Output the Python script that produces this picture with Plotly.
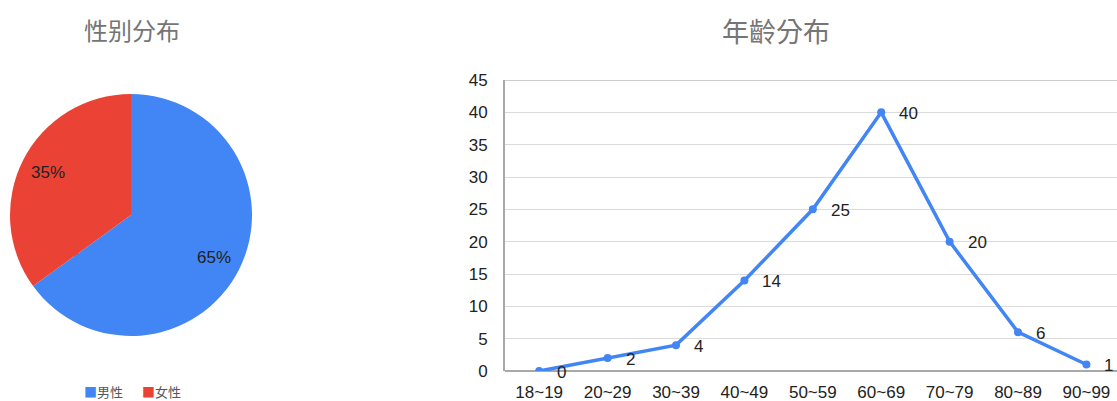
import plotly.graph_objects as go

W, H = 1117, 401

gender_labels = ["男性", "女性"]
gender_values = [65, 35]
gender_colors = ["#4285F4", "#EA4335"]

age_groups = ["18~19", "20~29", "30~39", "40~49", "50~59", "60~69", "70~79", "80~89", "90~99"]
age_counts = [0, 2, 4, 14, 25, 40, 20, 6, 1]

y_ticks = [0, 5, 10, 15, 20, 25, 30, 35, 40, 45]

FONT = "Liberation Sans, Arial, sans-serif"
CJK = "Noto Sans CJK SC, sans-serif"

def px_x(p):
    return p / W

def px_y(p):
    return 1 - p / H

# pie geometry (pixels)
cx, cy, r = 131, 215, 121
outer_dom = dict(x=[px_x(cx - r), px_x(cx + r)], y=[px_y(cy + r), px_y(cy - r)])
ri = r * 0.58
inner_dom = dict(x=[px_x(cx - ri), px_x(cx + ri)], y=[px_y(cy + ri), px_y(cy - ri)])

fig = go.Figure()

# solid inner disc (fills the donut hole, no text)
fig.add_trace(go.Pie(
    labels=gender_labels, values=gender_values,
    marker=dict(colors=gender_colors, line=dict(width=0)),
    sort=False, direction="clockwise", rotation=0,
    textinfo="none", hoverinfo="skip",
    domain=inner_dom, showlegend=False,
))
# outer ring carrying the percentage labels
fig.add_trace(go.Pie(
    labels=gender_labels, values=gender_values, hole=0.54,
    marker=dict(colors=gender_colors, line=dict(width=0)),
    sort=False, direction="clockwise", rotation=0,
    textinfo="percent", textposition="inside", insidetextorientation="horizontal",
    insidetextfont=dict(color="#222222", size=17, family=FONT),
    domain=outer_dom, showlegend=False,
))

fig.add_trace(go.Scatter(
    x=age_groups, y=age_counts, mode="lines+markers",
    line=dict(color="#4285F4", width=3.5),
    marker=dict(color="#4285F4", size=8),
    showlegend=False, xaxis="x", yaxis="y",
))

for g, c in zip(age_groups, age_counts):
    fig.add_annotation(x=g, y=c, xref="x", yref="y", text=str(c),
                       showarrow=False, xanchor="left", xshift=16, yshift=-1,
                       font=dict(size=17, color="#222222", family=FONT))

# titles
fig.add_annotation(x=px_x(132), y=px_y(29), xref="paper", yref="paper",
                   text="性别分布", showarrow=False, xanchor="center", yanchor="middle",
                   font=dict(size=24, color="#757575", family="Noto Sans CJK SC"))
fig.add_annotation(x=px_x(776), y=px_y(31), xref="paper", yref="paper",
                   text="年齡分布", showarrow=False, xanchor="center", yanchor="middle",
                   font=dict(size=27, color="#757575", family="Noto Sans CJK TC"))

# legend (as text)
legend_x = [82, 140]
for lab, col, lx in zip(gender_labels, gender_colors, legend_x):
    fig.add_annotation(x=px_x(lx), y=px_y(391), xref="paper", yref="paper",
                       text=f"<span style='color:{col}'>■</span>{lab}",
                       showarrow=False, xanchor="left", yanchor="middle",
                       font=dict(size=13, color="#555555", family=CJK))

fig.update_layout(
    width=W, height=H,
    margin=dict(l=0, r=0, t=0, b=0),
    paper_bgcolor="white", plot_bgcolor="white",
    font=dict(family=FONT, color="#222222"),
    showlegend=False,
    xaxis=dict(domain=[px_x(505), 1], range=[-0.5, 8.447],
               showgrid=False, showline=False, zeroline=False, automargin=False,
               ticks="", ticklabelstandoff=9,
               tickfont=dict(size=17, color="#222222", family=FONT)),
    yaxis=dict(domain=[px_y(371), px_y(80)], range=[0, 45], automargin=False,
               tickvals=y_ticks, showgrid=True, gridcolor="#dadada", gridwidth=1,
               showline=True, linecolor="#a8a8a8", linewidth=2, zeroline=True,
               zerolinecolor="#a8a8a8", zerolinewidth=2,
               ticks="", ticklabelstandoff=12,
               tickfont=dict(size=17, color="#222222", family=FONT)),
)
# top border line at 45
fig.add_shape(type="line", xref="x domain", yref="y", x0=0, x1=1, y0=45, y1=45,
              line=dict(color="#bdbdbd", width=1.5), layer="below")

fig.write_html("out.html")
